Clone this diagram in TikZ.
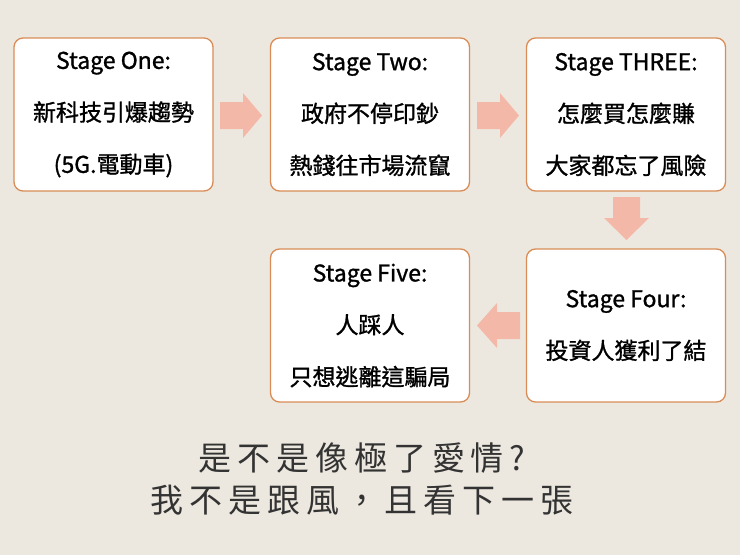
\documentclass[tikz,border=0pt]{standalone}
\usepackage{fontspec}
\setmainfont{Noto Sans CJK TC}[FakeBold=1.2]
\newfontfamily\bigcjk[LetterSpace=18]{Noto Sans CJK TC}
\usetikzlibrary{calc}
\definecolor{bg}{HTML}{EDE8DF}
\definecolor{bord}{HTML}{D98C55}
\definecolor{arr}{HTML}{F4B8A8}
\definecolor{txt}{HTML}{333333}
\begin{document}
\begin{tikzpicture}[x=1pt,y=-1pt,
 stagebox/.style={draw=bord,line width=1.3pt,fill=white,rounded corners=9pt,minimum width=199pt,minimum height=153pt,align=center,font=\fontsize{23}{52}\selectfont,text=black},
 blockarr/.style={fill=arr,draw=none}]
\fill[bg] (0,0) rectangle (740,555);
\node[stagebox] (s1) at (113.5,114.5) {Stage One:\\新科技引爆趨勢\\(5G.電動車)};
\node[stagebox] (s2) at (370,114.5) {Stage Two:\\政府不停印鈔\\熱錢往市場流竄};
\node[stagebox] (s3) at (626,114.5) {Stage THREE:\\怎麼買怎麼賺\\大家都忘了風險};
\node[stagebox] (s4) at (626,325.5) {Stage Four:\\投資人獲利了結};
\node[stagebox] (s5) at (370,325.5) {Stage Five:\\人踩人\\只想逃離這騙局};
% right arrows
\fill[blockarr] (220,102) -- (243,102) -- (243,93) -- (262,115.5) -- (243,138) -- (243,129) -- (220,129) -- cycle;
\fill[blockarr] (477,102) -- (500,102) -- (500,93) -- (519,115.5) -- (500,138) -- (500,129) -- (477,129) -- cycle;
% down arrow
\fill[blockarr] (613,197) -- (640,197) -- (640,218) -- (649,218) -- (626.5,240) -- (604,218) -- (613,218) -- cycle;
% left arrow
\fill[blockarr] (520,312) -- (497,312) -- (497,303) -- (477,325.5) -- (497,348) -- (497,339) -- (520,339) -- cycle;
\node[font=\bigcjk\fontsize{33}{42}\selectfont,text=txt,align=center] (t) at (362,479) {是不是像極了愛情?\\我不是跟風，且看下一張};
\end{tikzpicture}
\end{document}
